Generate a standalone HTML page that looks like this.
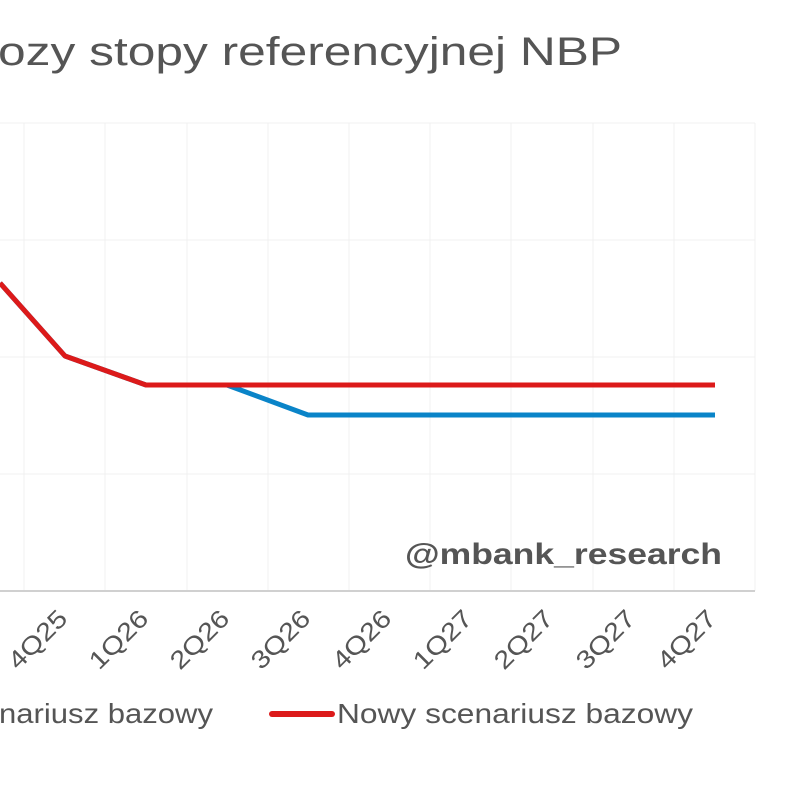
<!DOCTYPE html>
<html><head><meta charset="utf-8"><style>
html,body{margin:0;padding:0;background:#fff;width:800px;height:800px;overflow:hidden}
svg text{font-family:"Liberation Sans",sans-serif;fill:#555}
</style></head><body>
<svg width="800" height="800" viewBox="0 0 800 800" xmlns="http://www.w3.org/2000/svg">
<text x="-2" y="65" font-size="40" textLength="624" lengthAdjust="spacingAndGlyphs" style="fill:#555">ozy stopy referencyjnej NBP</text>
<g stroke="#f0f0f0" stroke-width="1">
<line x1="0" y1="123" x2="755" y2="123"/>
<line x1="0" y1="240" x2="755" y2="240"/>
<line x1="0" y1="357" x2="755" y2="357"/>
<line x1="0" y1="474" x2="755" y2="474"/>
<line x1="24" y1="123" x2="24" y2="591"/>
<line x1="105" y1="123" x2="105" y2="591"/>
<line x1="187" y1="123" x2="187" y2="591"/>
<line x1="268" y1="123" x2="268" y2="591"/>
<line x1="349" y1="123" x2="349" y2="591"/>
<line x1="430" y1="123" x2="430" y2="591"/>
<line x1="511" y1="123" x2="511" y2="591"/>
<line x1="593" y1="123" x2="593" y2="591"/>
<line x1="674" y1="123" x2="674" y2="591"/>
<line x1="755" y1="123" x2="755" y2="591"/>
</g>
<line x1="0" y1="591" x2="755" y2="591" stroke="#d0d0d0" stroke-width="2"/>
<polyline points="0,283 65,356 146,385 227,385 308,415 715,415" fill="none" stroke="#0a84c8" stroke-width="5" stroke-linejoin="round"/>
<polyline points="0,283 65,356 146,385 227,385 715,385" fill="none" stroke="#dc1a1a" stroke-width="5" stroke-linejoin="round"/>
<text x="405" y="564" font-size="30" font-weight="bold" textLength="317" lengthAdjust="spacingAndGlyphs" style="fill:#555">@mbank_research</text>
<g font-size="25" text-anchor="end">
<text transform="translate(69,620) rotate(-45)" textLength="72" lengthAdjust="spacingAndGlyphs">4Q25</text>
<text transform="translate(150,620) rotate(-45)" textLength="72" lengthAdjust="spacingAndGlyphs">1Q26</text>
<text transform="translate(231,620) rotate(-45)" textLength="72" lengthAdjust="spacingAndGlyphs">2Q26</text>
<text transform="translate(312,620) rotate(-45)" textLength="72" lengthAdjust="spacingAndGlyphs">3Q26</text>
<text transform="translate(393,620) rotate(-45)" textLength="72" lengthAdjust="spacingAndGlyphs">4Q26</text>
<text transform="translate(474,620) rotate(-45)" textLength="72" lengthAdjust="spacingAndGlyphs">1Q27</text>
<text transform="translate(555,620) rotate(-45)" textLength="72" lengthAdjust="spacingAndGlyphs">2Q27</text>
<text transform="translate(637,620) rotate(-45)" textLength="72" lengthAdjust="spacingAndGlyphs">3Q27</text>
<text transform="translate(718,620) rotate(-45)" textLength="72" lengthAdjust="spacingAndGlyphs">4Q27</text>
</g>
<text x="-1" y="723" font-size="28" textLength="214" lengthAdjust="spacingAndGlyphs">nariusz bazowy</text>
<line x1="272" y1="714" x2="332" y2="714" stroke="#dc1a1a" stroke-width="6" stroke-linecap="round"/>
<text x="337" y="723" font-size="28" textLength="356" lengthAdjust="spacingAndGlyphs">Nowy scenariusz bazowy</text>
</svg>
</body></html>
